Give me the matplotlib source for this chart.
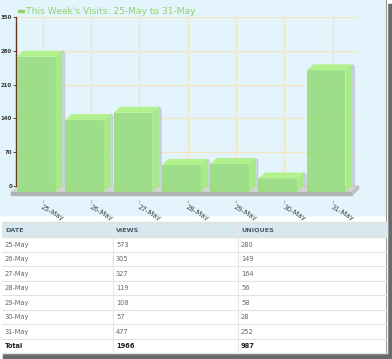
import matplotlib
matplotlib.use('Agg')
import matplotlib.pyplot as plt
from matplotlib.patches import Polygon, Rectangle
import numpy as np

# data
dates = ['25-May', '26-May', '27-May', '28-May', '29-May', '30-May', '31-May']
views = [573, 305, 327, 119, 108, 57, 477]
uniques = [280, 149, 164, 56, 58, 28, 252]
yticks = [0, 70, 140, 210, 280, 350]
title = "This Week's Visits: 25-May to 31-May"
headers = ['DATE', 'VIEWS', 'UNIQUES']

W, H = 392, 359
fig = plt.figure(figsize=(W / 100, H / 100), dpi=100)

# background layer in pixel coords
bg = fig.add_axes([0, 0, 1, 1])
bg.set_xlim(0, W)
bg.set_ylim(H, 0)
bg.axis('off')

# screenshot shadow + white page
bg.add_patch(Rectangle((3, 4), 389, 355, color='#6a6a6a', zorder=0))
bg.add_patch(Rectangle((0, 0), 387, 353, color='white', zorder=1))
bg.add_patch(Rectangle((0, 0), 386, 215, color='#e4f4fc', zorder=2))
bg.plot([386.5, 386.5], [0, 353], color='#9a9a9a', lw=0.8, zorder=3)

# title legend dash
bg.add_patch(Rectangle((18, 9.5), 6, 2.5, color='#8fd46c', zorder=3))

# table
top, head_h, row_h = 222, 15, 14.5
col_x = [2, 113, 238, 387]
bg.add_patch(Rectangle((col_x[0], top), col_x[-1] - col_x[0], head_h,
                       color='#d8e8ee', zorder=3))
rows = [[d, str(v), str(u)] for d, v, u in zip(dates, views, uniques)]
rows.append(['Total', str(sum(views)), str(sum(uniques))])
n = len(rows)
bottom = top + head_h + n * row_h
for k in range(n + 1):
    y = top + head_h + k * row_h
    bg.plot([col_x[0], col_x[-1]], [y, y], color='#e2e2e2', lw=0.8, zorder=4)
for cx in col_x[1:-1]:
    bg.plot([cx, cx], [top, bottom], color='#e6e6e6', lw=0.8, zorder=4)
bg.plot([col_x[0], col_x[-1]], [top, top], color='#e2e2e2', lw=0.8, zorder=4)
for j, h in enumerate(headers):
    bg.text(col_x[j] + 3, top + head_h / 2 + 0.5, h, fontsize=4.6,
            fontweight='bold', color='#4a5868', va='center', zorder=5)
for i, r in enumerate(rows):
    yc = top + head_h + (i + 0.5) * row_h + 0.5
    bold = r[0] == 'Total'
    for j, s in enumerate(r):
        bg.text(col_x[j] + 3, yc, s, fontsize=4.8,
                fontweight='bold' if bold else 'normal',
                color='#222222' if bold else '#666666', va='center', zorder=5)

# chart axes
ppu = 169 / 350            # pixels per y unit
pxx = 48.3                 # pixels per category
x0 = -0.42
ax_l, ax_r, ax_t, ax_b = 16, 357, 17, 200
ax = fig.add_axes([ax_l / W, 1 - ax_b / H, (ax_r - ax_l) / W, (ax_b - ax_t) / H])
ax.set_xlim(x0, x0 + (ax_r - ax_l) / pxx)
ax.set_ylim(-(ax_b - 186) / ppu, 350)
ax.patch.set_alpha(0)
ax.set_zorder(5)

dx = 6.5 / pxx
dy = 6 / ppu
bw = 0.8
grid_c = '#f3e6bf'

xpos = np.arange(len(dates))
ax.set_yticks(yticks)
ax.set_yticklabels([str(v) for v in yticks], fontsize=3.9, fontweight='bold', color='#333333')
for v in yticks[1:]:
    ax.axhline(v, color=grid_c, lw=0.9, zorder=1)
for xt in xpos + dx:
    ax.plot([xt, xt], [0, 350], color=grid_c, lw=0.9, zorder=1)

ax.set_xticks(xpos + dx)
ax.set_xticklabels(dates, rotation=-30, ha='left', va='top', rotation_mode='anchor',
                   fontsize=5, color='#444444')
ax.tick_params(axis='x', length=2, width=0.5, color='#999999', pad=1)
ax.tick_params(axis='y', length=2, width=0.6, color='#5a2a10', pad=0.8)

for s in ['top', 'right', 'bottom']:
    ax.spines[s].set_visible(False)
ax.spines['left'].set_bounds(0, 350)
ax.spines['left'].set_color('#6b3418')
ax.spines['left'].set_linewidth(1.0)

# floor
fl, fr = x0 - 5 / pxx, x0 + (352 - ax_l) / pxx
th = 3 / ppu
ax.add_patch(Polygon([(fl, -dy), (fr, -dy), (fr + dx, 0), (fl + dx, 0)],
                     closed=True, color='#d4d4d4', zorder=2, clip_on=False))
ax.add_patch(Polygon([(fl, -dy), (fr, -dy), (fr, -dy - th), (fl, -dy - th)],
                     closed=True, color='#b2b2b2', zorder=2, clip_on=False))
ax.add_patch(Polygon([(fr, -dy), (fr + dx, 0), (fr + dx, -th), (fr, -dy - th)],
                     closed=True, color='#c0c0c0', zorder=2, clip_on=False))

# 3d bars
for i, v in zip(xpos, uniques):
    l, r = i - bw / 2, i + bw / 2
    # shadow
    ax.add_patch(Polygon([(r + dx, 0), (r + dx + 2.5 / pxx, 0), (r + dx + 2.5 / pxx, v - 2 / ppu),
                          (r + dx, v)], closed=True, color='#b0b8c0', alpha=0.45, zorder=3))
    ax.add_patch(Polygon([(l, -dy), (r, -dy), (r, v - dy), (l, v - dy)],
                         closed=True, facecolor='#98dd80', alpha=0.92, lw=0, zorder=4))
    ax.add_patch(Polygon([(l, v - dy), (r, v - dy), (r + dx, v), (l + dx, v)],
                         closed=True, facecolor='#b3f18e', lw=0, zorder=4))
    ax.add_patch(Polygon([(r, -dy), (r + dx, 0), (r + dx, v), (r, v - dy)],
                         closed=True, facecolor='#a8ea88', lw=0, zorder=4))

# title
fig.text(26 / W, 1 - 11 / H, title, fontsize=6.6, color='#8fd46c', va='center')

fig.savefig('out.png', dpi=100)
